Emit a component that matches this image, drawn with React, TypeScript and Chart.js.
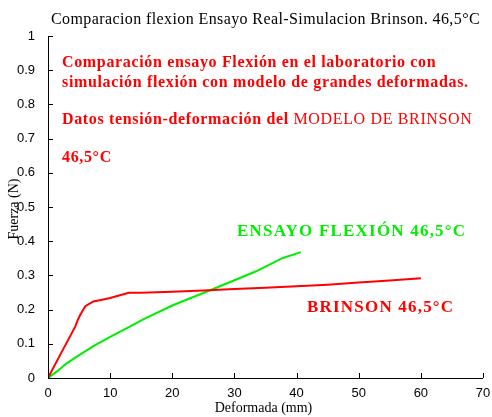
import { useEffect, useRef } from "react";
import { Chart, registerables } from "chart.js";

Chart.register(...registerables);

// Brinson model simulation (red)
const brinsonX = [0, 2, 4.4, 4.8, 5.2, 6.0, 7.3, 8.5, 10.0, 13.0, 15, 20, 25, 30, 35, 40, 45, 50, 55, 60];
const brinsonY = [0, 0.069, 0.151, 0.17, 0.185, 0.21, 0.224, 0.228, 0.234, 0.249, 0.249, 0.252, 0.256, 0.26, 0.264, 0.268, 0.273, 0.279, 0.285, 0.292];

// Laboratory bending test (green)
const ensayoX = [0, 1.5, 3, 4.7, 7.3, 10, 12.7, 15.4, 20, 26.3, 33.5, 37.8, 40.7];
const ensayoY = [0, 0.02, 0.043, 0.063, 0.093, 0.12, 0.146, 0.172, 0.212, 0.258, 0.312, 0.351, 0.368];

const xTicks = [0, 10, 20, 30, 40, 50, 60, 70];
const yTicks = [0, 0.1, 0.2, 0.3, 0.4, 0.5, 0.6, 0.7, 0.8, 0.9, 1];

const chartTitle = "Comparacion flexion Ensayo Real-Simulacion Brinson. 46,5°C";
const xTitle = "Deformada (mm)";
const yTitle = "Fuerza (N)";
const noteLine1 = "Comparación ensayo Flexión en el laboratorio con";
const noteLine2 = "simulación flexión con modelo de grandes deformadas.";
const noteLine3a = "Datos tensión-deformación del ";
const noteLine3b = "MODELO DE BRINSON";
const noteLine4 = "46,5°C";
const ensayoLabel = "ENSAYO FLEXIÓN 46,5°C";
const brinsonLabel = "BRINSON 46,5°C";

const SERIF = "'Liberation Serif', 'Times New Roman', serif";
const SANS = "'Liberation Sans', Arial, sans-serif";

export default function App() {
  const ref = useRef<HTMLCanvasElement>(null);

  useEffect(() => {
    const overlay = {
      id: "overlay",
      afterDraw(chart: any) {
        const ctx = chart.ctx as CanvasRenderingContext2D & { letterSpacing?: string };
        const { left, right, top, bottom } = chart.chartArea;
        const xs = chart.scales.x;
        const ys = chart.scales.y;
        ctx.save();

        // axis lines
        ctx.strokeStyle = "#000";
        ctx.lineWidth = 1;
        ctx.beginPath();
        ctx.moveTo(Math.round(left) + 0.5, Math.round(top));
        ctx.lineTo(Math.round(left) + 0.5, Math.round(bottom) + 0.5);
        ctx.lineTo(Math.round(right), Math.round(bottom) + 0.5);
        ctx.stroke();

        // inward tick marks
        ctx.beginPath();
        for (const v of xTicks) {
          const px = Math.round(xs.getPixelForValue(v)) + 0.5;
          ctx.moveTo(px, bottom);
          ctx.lineTo(px, bottom - 5);
        }
        for (const v of yTicks) {
          const py = Math.round(ys.getPixelForValue(v)) + 0.5;
          ctx.moveTo(left, py);
          ctx.lineTo(left + 5, py);
        }
        ctx.stroke();

        const cx = (left + right) / 2;
        const cy = (top + bottom) / 2;

        // title
        ctx.fillStyle = "#000";
        ctx.textBaseline = "middle";
        ctx.textAlign = "center";
        ctx.font = `16px ${SERIF}`;
        ctx.letterSpacing = "0.4px";
        ctx.fillText(chartTitle, cx, 20);

        // axis titles
        ctx.letterSpacing = "0px";
        ctx.font = `14px ${SERIF}`;
        ctx.fillText(xTitle, cx - 2, 408);
        ctx.save();
        ctx.translate(14, cy + 2);
        ctx.rotate(-Math.PI / 2);
        ctx.fillText(yTitle, 0, 0);
        ctx.restore();

        // notes
        ctx.textAlign = "left";
        ctx.fillStyle = "#ff0000";
        ctx.letterSpacing = "0.65px";
        ctx.font = `bold 16px ${SERIF}`;
        ctx.fillText(noteLine1, 62, 63);
        ctx.fillText(noteLine2, 62, 83);
        ctx.fillText(noteLine3a, 62, 120);
        const w3 = ctx.measureText(noteLine3a).width;
        ctx.font = `16px ${SERIF}`;
        ctx.fillText(noteLine3b, 62 + w3, 120);
        ctx.font = `bold 16px ${SERIF}`;
        ctx.fillText(noteLine4, 62, 158);

        // series labels
        ctx.letterSpacing = "1.2px";
        ctx.font = `bold 17px ${SERIF}`;
        ctx.fillStyle = "#00ee00";
        ctx.fillText(ensayoLabel, 237, 232);
        ctx.fillStyle = "#ff0000";
        ctx.fillText(brinsonLabel, 307, 308);

        ctx.restore();
      },
    };

    const chart = new Chart(ref.current as HTMLCanvasElement, {
      type: "scatter",
      data: {
        datasets: [
          {
            label: "Brinson",
            data: brinsonX.map((x, i) => ({ x, y: brinsonY[i] })),
            showLine: true,
            borderColor: "#ff0000",
            borderWidth: 2,
            pointRadius: 0,
          },
          {
            label: "Ensayo",
            data: ensayoX.map((x, i) => ({ x, y: ensayoY[i] })),
            showLine: true,
            borderColor: "#00ee00",
            borderWidth: 2,
            pointRadius: 0,
          },
        ],
      },
      options: {
        responsive: false,
        animation: false,
        layout: { padding: { top: 36, right: 9, left: 0, bottom: 0 } },
        plugins: {
          legend: { display: false },
          tooltip: { enabled: false },
        },
        scales: {
          x: {
            type: "linear",
            min: 0,
            max: 70,
            grid: { display: false },
            border: { display: false },
            afterBuildTicks: (s: any) => {
              s.ticks = xTicks.map((v) => ({ value: v }));
            },
            afterFit: (s: any) => {
              s.height = 39;
            },
            ticks: {
              color: "#000",
              padding: 0,
              maxRotation: 0,
              font: { family: SANS, size: 13 },
              callback: (v: any) => String(v),
            },
          },
          y: {
            type: "linear",
            min: 0,
            max: 1,
            grid: { display: false },
            border: { display: false },
            afterBuildTicks: (s: any) => {
              s.ticks = yTicks.map((v) => ({ value: v }));
            },
            afterFit: (s: any) => {
              s.width = 48;
            },
            ticks: {
              color: "#000",
              padding: 5,
              font: { family: SANS, size: 13 },
              callback: (v: any) => String(Math.round(Number(v) * 10) / 10),
            },
          },
        },
      },
      plugins: [overlay],
    });
    return () => chart.destroy();
  }, []);

  return (
    <div style={{ position: "absolute", left: 0, top: 0, width: 492, height: 417, background: "#fff" }}>
      <canvas ref={ref} width={492} height={417} style={{ display: "block" }} />
    </div>
  );
}
